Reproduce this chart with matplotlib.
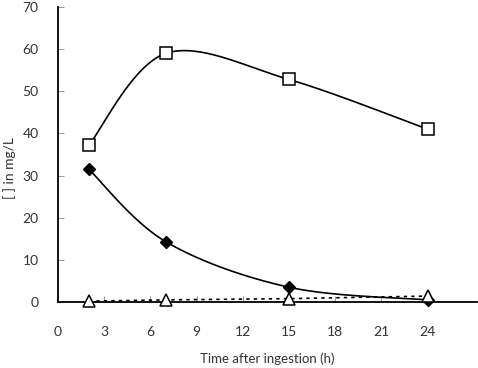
import numpy as np
import matplotlib
matplotlib.use("Agg")
import matplotlib.pyplot as plt

plt.rcParams['font.family'] = ['Lato', 'DejaVu Sans']

time_h = [2, 7, 15, 24]
squares = [37.2, 59.0, 52.8, 41.0]
diamonds = [31.5, 14.3, 3.5, 0.5]
triangles = [0.2, 0.5, 0.8, 1.4]
xticks = [0, 3, 6, 9, 12, 15, 18, 21, 24]
yticks = [0, 10, 20, 30, 40, 50, 60, 70]


def smooth(x, y, n=60, t=0.5):
    x = np.asarray(x, float); y = np.asarray(y, float)
    px = np.concatenate([[x[0]], x, [x[-1]]])
    py = np.concatenate([[y[0]], y, [y[-1]]])
    xs, ys = [], []
    for i in range(1, len(px) - 2):
        p0 = np.array([px[i-1], py[i-1]]); p1 = np.array([px[i], py[i]])
        p2 = np.array([px[i+1], py[i+1]]); p3 = np.array([px[i+2], py[i+2]])
        c1 = p1 + (p2 - p0) * t / 3
        c2 = p2 - (p3 - p1) * t / 3
        s = np.linspace(0, 1, n)[:, None]
        b = (1-s)**3 * p1 + 3*(1-s)**2*s*c1 + 3*(1-s)*s**2*c2 + s**3*p2
        xs.append(b[:, 0]); ys.append(b[:, 1])
    return np.concatenate(xs), np.concatenate(ys)


fig = plt.figure(figsize=(4.78, 3.68), dpi=100)
ax = fig.add_axes([58/478, 1-302/368, (477-58)/478, (302-7)/368])

sx, sy = smooth(time_h, squares, t=0.5)
ax.plot(sx, sy, color='black', lw=1.2, zorder=2)
dx, dy = smooth(time_h, diamonds, t=0.5)
ax.plot(dx, dy, color='black', lw=1.2, zorder=2)
ax.plot(time_h, triangles, color='black', lw=1.2, ls=(0, (2, 2.5)), zorder=2)

ax.plot(time_h, squares, ls='none', marker='s', ms=8.5, mfc='white', mec='black', mew=1.1, zorder=3, clip_on=False)
ax.plot(time_h, diamonds, ls='none', marker='D', ms=6.5, mfc='black', mec='black', zorder=3, clip_on=False)
ax.plot(time_h, triangles, ls='none', marker='^', ms=9, mfc='white', mec='black', mew=1.1, zorder=4, clip_on=False)

ax.set_xlim(0, 27.2)
ax.set_ylim(0, 70)
ax.set_xticks(xticks)
ax.set_yticks(yticks)
ax.set_xticklabels([str(v) for v in xticks])
ax.set_yticklabels([str(v) for v in yticks])
for s in ['top', 'right']:
    ax.spines[s].set_visible(False)
for s in ['left', 'bottom']:
    ax.spines[s].set_linewidth(1.3)
ax.tick_params(axis='x', direction='in', length=4, width=0.6, color='#888888', pad=17, labelsize=10, labelcolor='#333333')
ax.tick_params(axis='y', direction='in', length=4, width=0.6, color='#888888', pad=14, labelsize=10, labelcolor='#333333')
ax.set_xlabel('Time after ingestion (h)', fontsize=9.5, color='#333333', va='center')
ax.xaxis.set_label_coords(0.5, -(359-302)/295, transform=ax.transAxes)
ax.set_ylabel('[ ] in mg/L', fontsize=10, color='#333333', va='center')
ax.yaxis.set_label_coords(-(58-10)/419, (302-168)/295, transform=ax.transAxes)

fig.savefig('out.png', dpi=100)
